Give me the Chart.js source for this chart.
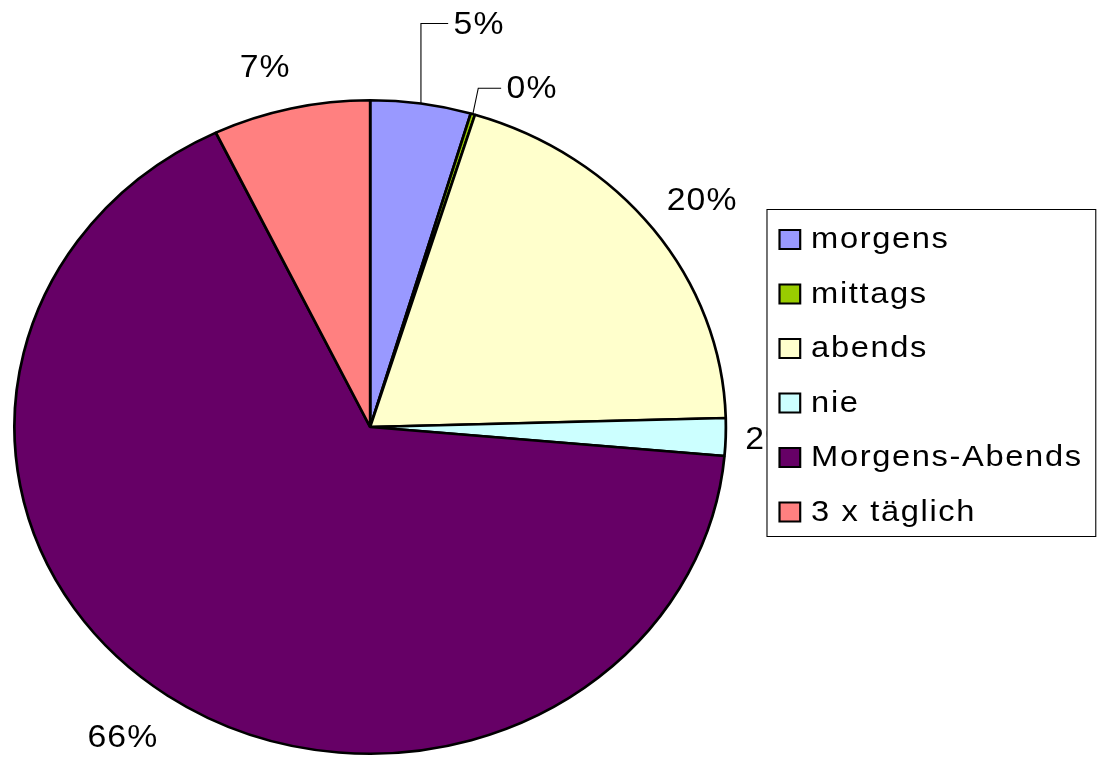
<!DOCTYPE html>
<html><head><meta charset="utf-8">
<script src="https://cdn.jsdelivr.net/npm/chart.js@4.4.1/dist/chart.umd.min.js"></script>
<style>html,body{margin:0;padding:0;background:#fff;overflow:hidden}canvas{display:block}</style>
</head><body>
<canvas id="c" width="1097" height="758"></canvas>
<script>
// ---- data ----
const categories = ['morgens', 'mittags', 'abends', 'nie', 'Morgens-Abends', '3 x täglich'];
const values = [4.56, 0.2, 19.8, 1.85, 66.45, 7.14];
const colors = ['#9999FF', '#99CC00', '#FFFFCC', '#CCFFFF', '#660066', '#FF8080'];
const valueLabels = values.map(v => Math.round(v) + '%');

// ---- styling / layout ----
const SX = 1.0887; // the original picture is stretched horizontally
const FONT = '"Liberation Sans", Arial, Helvetica, sans-serif';
const LABEL_SIZE = 31, LEGEND_SIZE = 30;
const GAP = 18, HALF_H = 22;
const LEADERS = { 0: {dx: 30, dy: -81, elbow: 0}, 1: {dx: 31, dy: -27, elbow: 5} };
const NUDGE = { 2: [4.5, -6.5], 4: [-12.4, 7.5], 5: [-14.5, -4] };
const LEG = {x: 704, y: 209, w: 302, h: 327, sx: 716, sw: 19, top: 230, step: 54.5, tx: 745};

const deco = {
  id: 'deco',
  beforeDraw(chart) {
    const ctx = chart.ctx;
    ctx.save();
    ctx.setTransform(SX, 0, 0, 1, 0, 0);
  },
  afterDatasetsDraw(chart) {
    const ctx = chart.ctx;
    const meta = chart.getDatasetMeta(0);
    ctx.save();
    ctx.font = LABEL_SIZE + 'px ' + FONT;
    ctx.fillStyle = '#000';
    ctx.strokeStyle = '#000';
    ctx.lineWidth = 1;
    try { ctx.letterSpacing = '1px'; } catch (e) {}
    ctx.textBaseline = 'alphabetic';
    const capOff = 0.358 * LABEL_SIZE;
    meta.data.forEach((arc, i) => {
      const p = arc.getProps(['x', 'y', 'startAngle', 'endAngle', 'outerRadius'], true);
      const mid = (p.startAngle + p.endAngle) / 2;
      const ux = Math.cos(mid), uy = Math.sin(mid);
      const text = valueLabels[i];
      const w = ctx.measureText(text).width;
      const px = p.x + ux * p.outerRadius, py = p.y + uy * p.outerRadius;
      const lead = LEADERS[i];
      if (lead) {
        const lx = px + lead.dx, ly = py + lead.dy;
        ctx.beginPath();
        ctx.moveTo(px, py);
        ctx.lineTo(px + lead.elbow, ly + 1);
        ctx.lineTo(lx - 5, ly + 1);
        ctx.stroke();
        ctx.textAlign = 'left';
        ctx.fillText(text, lx, ly + capOff);
      } else {
        const n = NUDGE[i] || [0, 0];
        const r = p.outerRadius + GAP;
        const cx = p.x + ux * r + ux * w / 2 + n[0];
        const cy = p.y + uy * r + uy * HALF_H + n[1];
        ctx.textAlign = 'center';
        ctx.fillText(text, cx, cy + capOff);
      }
    });
    ctx.restore();
  },
  afterDraw(chart) {
    const ctx = chart.ctx;
    // legend
    ctx.save();
    ctx.fillStyle = '#fff';
    ctx.fillRect(LEG.x, LEG.y, LEG.w, LEG.h);
    ctx.strokeStyle = '#000';
    ctx.lineWidth = 1;
    ctx.strokeRect(LEG.x + 0.5, LEG.y + 0.5, LEG.w, LEG.h);
    ctx.font = LEGEND_SIZE + 'px ' + FONT;
    try { ctx.letterSpacing = '1.5px'; } catch (e) {}
    ctx.textAlign = 'left';
    ctx.textBaseline = 'alphabetic';
    const ds = chart.data.datasets[0];
    chart.data.labels.forEach((lab, i) => {
      const top = LEG.top + i * LEG.step;
      ctx.fillStyle = ds.backgroundColor[i];
      ctx.fillRect(LEG.sx, top, LEG.sw, LEG.sw);
      ctx.lineWidth = 2;
      ctx.strokeStyle = '#000';
      ctx.strokeRect(LEG.sx, top, LEG.sw, LEG.sw);
      ctx.fillStyle = '#000';
      ctx.fillText(lab, LEG.tx, top + LEG.sw / 2 + 8.5);
    });
    ctx.restore();
    ctx.restore();
  }
};

new Chart(document.getElementById('c'), {
  type: 'pie',
  data: {
    labels: categories,
    datasets: [{
      data: values,
      backgroundColor: colors,
      borderColor: '#000',
      borderWidth: 2.5,
      hoverBorderWidth: 2.5,
      hoverOffset: 0
    }]
  },
  options: {
    responsive: false,
    animation: false,
    events: [],
    layout: { padding: { left: 12, top: 99, right: 429, bottom: 3 } },
    plugins: { legend: { display: false }, tooltip: { enabled: false } }
  },
  plugins: [deco]
});
</script>
</body></html>
